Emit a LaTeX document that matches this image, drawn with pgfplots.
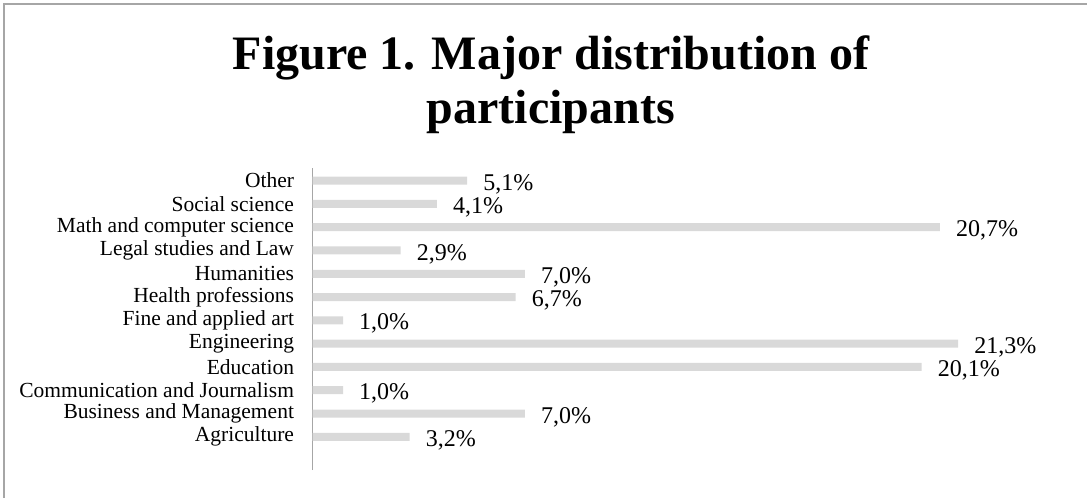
\documentclass[border=0pt]{standalone}
\usepackage{pgfplots}
\pgfplotsset{compat=1.18}
\usepackage{fontspec}
\setmainfont{Liberation Serif}
\definecolor{barfill}{HTML}{D9D9D9}
\definecolor{axisgray}{HTML}{A6A6A6}
\begin{document}
\begin{tikzpicture}
\useasboundingbox (0,0) rectangle (1087pt,-498pt);
\draw[axisgray, line width=1.5pt] (4pt,-498pt) -- (4pt,-4pt) -- (1087pt,-4pt);
\node[anchor=base, font=\bfseries\fontsize{48}{52}\selectfont] at (551pt,-69pt) {Figure 1. Major distribution of};
\node[anchor=base, font=\bfseries\fontsize{48}{52}\selectfont] at (551pt,-123pt) {participants};
\begin{axis}[
  at={(312.7pt,-470pt)}, anchor=south west,
  scale only axis,
  width=757.5pt, height=302pt,
  xmin=0, xmax=25, ymin=-1.425, ymax=11.54,
  xbar, bar width=8pt,
  axis x line=none,
  axis y line*=left,
  y axis line style={axisgray, line width=1.2pt},
  ytick={0,...,11},
  yticklabels={Agriculture, Business and Management, Communication and Journalism, Education, Engineering, Fine and applied art, Health professions, Humanities, Legal studies and Law, Math and computer science, Social science, Other},
  major tick length=0pt,
  yticklabel style={anchor=east, inner sep=0pt, xshift=-18.5pt, font=\fontsize{21.5}{25}\selectfont},
  point meta=x,
  nodes near coords={\pgfmathprintnumber[fixed,fixed zerofill,precision=1,use comma,assume math mode=true]{\pgfplotspointmeta}\%},
  nodes near coords align=horizontal,
  every node near coord/.append style={anchor=west, inner sep=0pt, xshift=16pt, yshift=-3.5pt, font=\fontsize{24}{28}\selectfont, text=black},
  clip=false,
]
\addplot[fill=barfill, draw=none] coordinates {
(3.2,0) (7.0,1) (1.0,2) (20.1,3) (21.3,4) (1.0,5) (6.7,6) (7.0,7) (2.9,8) (20.7,9) (4.1,10) (5.1,11)
};
\end{axis}
\end{tikzpicture}
\end{document}
